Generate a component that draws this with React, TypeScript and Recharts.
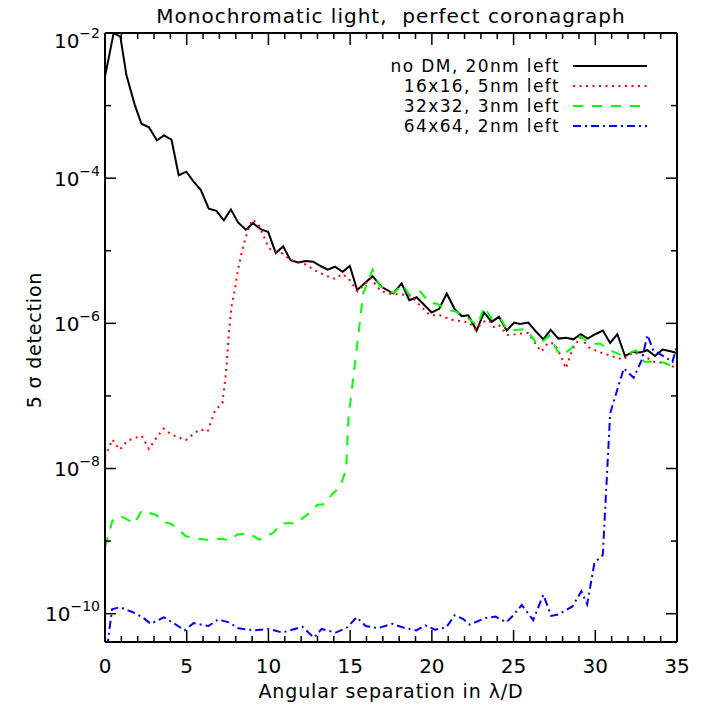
import { LineChart, Line, XAxis, YAxis, Legend } from "recharts";

// angular separation (lambda/D) and log10 of the 5-sigma detection limit, per curve
const noDmX = [0, 0.53, 0.94, 1.31, 1.82, 2.23, 2.69, 3.18, 3.61, 4.07, 4.51, 4.98, 5.43, 5.86, 6.35, 6.82, 7.27, 7.7, 8.14, 8.62, 9.06, 9.58, 9.98, 10.45, 10.9, 11.35, 11.82, 12.29, 12.74, 13.19, 13.62, 14.07, 14.54, 14.98, 15.43, 16.37, 16.94, 17.64, 18.15, 18.62, 19.07, 19.99, 20.45, 20.91, 21.41, 21.83, 22.23, 22.74, 23.19, 23.66, 24.11, 24.58, 25.03, 25.4, 25.9, 26.4, 26.82, 27.27, 27.74, 28.21, 28.66, 29.11, 29.54, 29.99, 30.46, 30.91, 31.35, 31.82, 32.3, 32.74, 33.19, 33.66, 34.11, 34.54, 35];
const noDmLog = [-2.6, -2.0, -2.05, -2.58, -2.99, -3.25, -3.3, -3.48, -3.41, -3.47, -3.96, -3.91, -4.05, -4.16, -4.42, -4.45, -4.58, -4.43, -4.61, -4.71, -4.62, -4.71, -4.74, -5.03, -4.94, -5.13, -5.16, -5.14, -5.15, -5.21, -5.26, -5.22, -5.29, -5.21, -5.54, -5.35, -5.5, -5.59, -5.45, -5.68, -5.64, -5.85, -5.8, -5.59, -5.81, -5.9, -5.89, -6.1, -5.85, -5.98, -5.91, -6.1, -5.99, -6.01, -5.99, -6.12, -6.22, -6.09, -6.21, -6.2, -6.22, -6.15, -6.21, -6.15, -6.1, -6.27, -6.15, -6.45, -6.39, -6.4, -6.37, -6.45, -6.36, -6.38, -6.41];

const dm16X = [0, 0.45, 0.9, 1.35, 1.8, 2.24, 2.69, 3.14, 3.59, 4.04, 4.49, 4.94, 5.38, 5.83, 6.28, 6.73, 7.18, 7.4, 7.58, 7.74, 7.94, 8.14, 8.45, 8.76, 9.02, 9.4, 9.75, 10.0, 10.2, 10.8, 11.3, 11.8, 12.3, 12.75, 13.2, 13.6, 14.1, 14.5, 14.9, 15.45, 16.25, 16.9, 17.6, 18.1, 18.7, 19.3, 19.9, 20.5, 21.2, 21.8, 22.3, 22.7, 23.1, 23.5, 23.8, 24.1, 24.6, 25.1, 25.9, 26.3, 26.7, 27.1, 27.5, 27.9, 28.2, 28.6, 29.07, 29.6, 30.3, 31.0, 31.7, 32.3, 32.9, 33.6, 34.3, 35];
const dm16Log = [-7.84, -7.6, -7.74, -7.62, -7.58, -7.55, -7.73, -7.58, -7.45, -7.53, -7.57, -7.61, -7.53, -7.46, -7.49, -7.2, -7.1, -6.7, -6.14, -5.77, -5.54, -5.26, -4.94, -4.71, -4.57, -4.64, -4.82, -4.95, -5.0, -5.03, -5.12, -5.16, -5.19, -5.26, -5.31, -5.35, -5.39, -5.32, -5.38, -5.56, -5.38, -5.56, -5.6, -5.6, -5.62, -5.76, -5.89, -5.89, -5.95, -5.97, -5.99, -6.09, -5.98, -5.96, -6.05, -6.02, -6.16, -6.15, -6.13, -6.27, -6.39, -6.27, -6.28, -6.45, -6.62, -6.36, -6.19, -6.33, -6.4, -6.45, -6.5, -6.4, -6.44, -6.53, -6.55, -6.62];

const dm32X = [0, 0.45, 0.9, 1.35, 1.79, 2.24, 2.69, 3.14, 3.59, 4.04, 4.49, 4.94, 5.38, 5.83, 6.28, 6.73, 7.18, 7.63, 8.08, 8.53, 8.97, 9.42, 9.87, 10.32, 10.77, 11.22, 11.67, 12.12, 12.56, 13.01, 13.46, 13.91, 14.36, 14.75, 14.9, 15.8, 16.37, 16.8, 17.3, 17.7, 18.2, 18.6, 19.27, 19.9, 20.3, 20.9, 21.5, 22.2, 22.8, 23.2, 23.7, 24.2, 24.6, 25.1, 25.7, 26.1, 26.5, 27.2, 27.7, 28.0, 28.5, 29.07, 29.7, 30.3, 30.9, 31.5, 32.0, 32.5, 33.0, 33.7, 34.2, 35];
const dm32Log = [-9.08, -8.72, -8.65, -8.7, -8.76, -8.58, -8.61, -8.64, -8.74, -8.76, -8.84, -8.93, -8.96, -8.97, -8.98, -8.97, -8.97, -8.99, -8.91, -8.9, -8.91, -8.98, -8.94, -8.88, -8.76, -8.75, -8.76, -8.68, -8.6, -8.5, -8.49, -8.35, -8.26, -8.02, -7.3, -5.59, -5.26, -5.48, -5.55, -5.58, -5.46, -5.6, -5.56, -5.72, -5.73, -5.81, -5.84, -5.93, -6.03, -5.77, -5.95, -5.93, -6.09, -6.09, -6.08, -6.18, -6.3, -6.17, -6.39, -6.44, -6.35, -6.18, -6.28, -6.28, -6.37, -6.43, -6.42, -6.37, -6.53, -6.53, -6.54, -6.62];

const dm64X = [0, 0.43, 0.91, 1.71, 2.3, 2.8, 3.6, 4.2, 4.88, 5.42, 6.33, 6.92, 7.6, 8.15, 9.12, 10.04, 10.85, 12.07, 12.78, 13.26, 14.12, 14.82, 15.4, 15.95, 16.7, 17.58, 18.25, 19.05, 19.6, 20.18, 20.88, 21.4, 21.9, 22.33, 23.25, 23.9, 24.55, 25.0, 25.5, 26.2, 26.82, 27.3, 27.74, 28.6, 29.15, 29.5, 29.95, 30.46, 30.91, 31.5, 31.75, 32.35, 32.85, 33.19, 33.55, 33.86, 34.3, 34.72, 35];
const dm64Log = [-10.7, -9.94, -9.91, -9.98, -10.05, -10.14, -10.05, -10.13, -10.23, -10.13, -10.17, -10.08, -10.12, -10.2, -10.23, -10.21, -10.26, -10.18, -10.33, -10.21, -10.26, -10.19, -10.05, -10.17, -10.2, -10.14, -10.19, -10.23, -10.16, -10.22, -10.19, -10.02, -10.07, -10.15, -10.06, -10.04, -10.12, -10.02, -9.88, -10.09, -9.74, -10.03, -10.01, -9.9, -9.69, -9.87, -9.3, -9.19, -7.24, -6.8, -6.62, -6.75, -6.5, -6.16, -6.37, -6.41, -6.47, -6.53, -6.31];

const seriesNames = ["no DM, 20nm left", "16x16, 5nm left", "32x32, 3nm left", "64x64, 2nm left"];
const xTicks = [0, 1, 2, 3, 4, 5, 6, 7, 8, 9, 10, 11, 12, 13, 14, 15, 16, 17, 18, 19, 20, 21, 22, 23, 24, 25, 26, 27, 28, 29, 30, 31, 32, 33, 34, 35];
const yTicks = [1e-10, 1e-9, 1e-8, 1e-7, 1e-6, 1e-5, 1e-4, 1e-3, 1e-2];
const yDomain = [Math.pow(10, -10.39), 1e-2];

const FONT = "DejaVu Sans";

const toRows = (xs: number[], logs: number[]) =>
  xs.map((x, i) => ({ x, y: Math.pow(10, logs[i]) }));

const series = [
  { name: seriesNames[0], data: toRows(noDmX, noDmLog), color: "#000000", dash: undefined, width: 2 },
  { name: seriesNames[1], data: toRows(dm16X, dm16Log), color: "#ff0000", dash: "2 4.5", width: 2 },
  { name: seriesNames[2], data: toRows(dm32X, dm32Log), color: "#00ff00", dash: "10 9", width: 2 },
  { name: seriesNames[3], data: toRows(dm64X, dm64Log), color: "#0000ff", dash: "8 4 2 4", width: 2 },
];

const expOf = (v: number) => Math.round(Math.log10(v));

function BottomTick({ x, y, payload }: any) {
  const v = payload.value;
  const major = v % 5 === 0;
  return (
    <g>
      <line x1={x} x2={x} y1={y} y2={y - (major ? 12 : 6)} stroke="#000" strokeWidth={1.5} />
      {major && (
        <text x={x} y={y + 31} textAnchor="middle" fontSize={20} fill="#000" fontFamily={FONT}>
          {v}
        </text>
      )}
    </g>
  );
}

function TopTick({ x, y, payload }: any) {
  const major = payload.value % 5 === 0;
  return <line x1={x} x2={x} y1={y} y2={y + (major ? 12 : 6)} stroke="#000" strokeWidth={1.5} />;
}

function LeftTick({ x, y, payload }: any) {
  const e = expOf(payload.value);
  const major = e % 2 === 0;
  return (
    <g>
      <line x1={x} x2={x + (major ? 11 : 6)} y1={y} y2={y} stroke="#000" strokeWidth={1.5} />
      {major && (
        <text x={x - 5} y={y + (e === -2 ? 15 : 7.5)} textAnchor="end" fontSize={20} fill="#000" fontFamily={FONT}>
          10
          <tspan dy={-10} fontSize={14}>{"\u2212" + -e}</tspan>
        </text>
      )}
    </g>
  );
}

function RightTick({ x, y, payload }: any) {
  const major = expOf(payload.value) % 2 === 0;
  return <line x1={x} x2={x - (major ? 11 : 6)} y1={y} y2={y} stroke="#000" strokeWidth={1.5} />;
}

function LegendBox() {
  const rows = [14, 34, 54, 74];
  return (
    <svg width={290} height={88} style={{ fontFamily: FONT, overflow: "visible" }}>
      {series.map((s, i) => (
        <g key={s.name}>
          <text x={190} y={rows[i] + 6} textAnchor="end" fontSize={17} letterSpacing={1.4} fill="#000">
            {s.name}
          </text>
          <line x1={203} x2={277} y1={rows[i]} y2={rows[i]} stroke={s.color} strokeWidth={2} strokeDasharray={s.dash} />
        </g>
      ))}
    </svg>
  );
}

export default function App() {
  const axisLine = { stroke: "#000", strokeWidth: 2 };
  return (
    <div style={{ position: "absolute", left: 0, top: 0, width: 709, height: 709, background: "#fff" }}>
      <LineChart
        width={709}
        height={709}
        margin={{ top: 0, right: 0, bottom: 0, left: 0 }}
        style={{ fontFamily: FONT }}
      >
        <XAxis
          xAxisId="bottom"
          dataKey="x"
          type="number"
          domain={[0, 35]}
          allowDataOverflow
          ticks={xTicks}
          interval={0}
          height={67}
          tickSize={0}
          tickMargin={0}
          tickLine={false}
          axisLine={axisLine}
          tick={BottomTick}
        />
        <XAxis
          xAxisId="top"
          orientation="top"
          dataKey="x"
          type="number"
          domain={[0, 35]}
          allowDataOverflow
          ticks={xTicks}
          interval={0}
          height={33}
          tickSize={0}
          tickMargin={0}
          tickLine={false}
          axisLine={axisLine}
          tick={TopTick}
        />
        <YAxis
          yAxisId="left"
          type="number"
          scale="log"
          domain={yDomain}
          allowDataOverflow
          ticks={yTicks}
          interval={0}
          width={105}
          tickSize={0}
          tickMargin={0}
          tickLine={false}
          axisLine={axisLine}
          tick={LeftTick}
        />
        <YAxis
          yAxisId="right"
          orientation="right"
          type="number"
          scale="log"
          domain={yDomain}
          allowDataOverflow
          ticks={yTicks}
          interval={0}
          width={32}
          tickSize={0}
          tickMargin={0}
          tickLine={false}
          axisLine={axisLine}
          tick={RightTick}
        />
        {/* invisible series so the mirrored top/right axes have data */}
        <Line
          xAxisId="top"
          yAxisId="right"
          data={series[0].data}
          dataKey="y"
          stroke="none"
          dot={false}
          legendType="none"
          isAnimationActive={false}
        />
        {series.map((s) => (
          <Line
            key={s.name}
            xAxisId="bottom"
            yAxisId="left"
            data={s.data}
            dataKey="y"
            name={s.name}
            type="linear"
            stroke={s.color}
            strokeWidth={s.width}
            strokeDasharray={s.dash}
            dot={false}
            isAnimationActive={false}
          />
        ))}
        <Legend
          layout="vertical"
          align="center"
          verticalAlign="middle"
          wrapperStyle={{ position: "absolute", left: 370, top: 52, width: 290, height: 88 }}
          content={() => <LegendBox />}
        />
      </LineChart>
      <svg
        width={709}
        height={709}
        style={{ position: "absolute", left: 0, top: 0, pointerEvents: "none", fontFamily: FONT }}
      >
        <text x={391} y={23} textAnchor="middle" fontSize={20} letterSpacing={1} fill="#000" style={{ whiteSpace: "pre" }}>
          Monochromatic light,  perfect coronagraph
        </text>
        <text x={391} y={698} textAnchor="middle" fontSize={19} letterSpacing={0.9} fill="#000">
          Angular separation in λ/D
        </text>
        <text x={41} y={340} textAnchor="middle" fontSize={19} letterSpacing={0.8} fill="#000" transform="rotate(-90 41 340)">
          5 σ detection
        </text>
      </svg>
    </div>
  );
}
